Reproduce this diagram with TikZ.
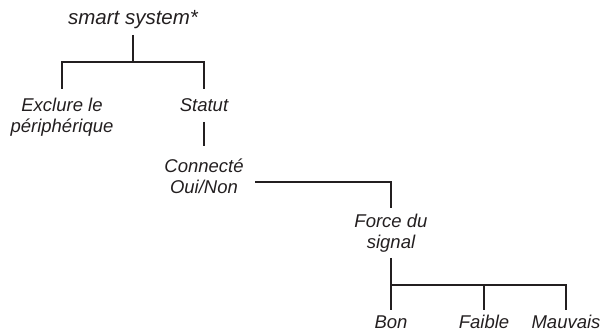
\documentclass[tikz,border=0pt]{standalone}
\usepackage{fontspec}
\setmainfont{Liberation Sans}
\definecolor{ink}{HTML}{231F20}
\newcommand{\twolines}[2]{\begin{tabular}[t]{@{}c@{}}#1\\#2\end{tabular}}
\begin{document}
\begin{tikzpicture}[x=1pt,y=1pt,
  lbl/.style={inner sep=0pt,outer sep=0pt,anchor=base,text=ink,
    font=\fontsize{18.5}{20.5}\selectfont\itshape},
  ttl/.style={lbl,font=\fontsize{20.5}{22}\selectfont\itshape},
  conn/.style={draw=ink,line width=1.8pt}]
\useasboundingbox (0,0) rectangle (603,335);
\node[ttl] (title) at (133,310) {smart system*};
\node[lbl] (exclure) at (62,223) {\twolines{Exclure le}{périphérique}};
\node[lbl] (statut) at (204,223) {Statut};
\node[lbl] (connecte) at (204,162) {\twolines{Connecté}{Oui/Non}};
\node[lbl] (force) at (391,107) {\twolines{Force du}{signal}};
\node[lbl] (bon) at (391,6) {Bon};
\node[lbl] (faible) at (484,6) {Faible};
\node[lbl] (mauvais) at (566,6) {Mauvais};
\coordinate (j1) at (133,273);
\coordinate (j2) at (391,153);
\coordinate (j3) at (391,50);
\draw[conn] ([yshift=-10pt]title.base) -- (j1);
\draw[conn] ([yshift=23pt]exclure.base) |- (j1) -| ([yshift=23pt]statut.base);
\draw[conn] ([yshift=-10pt]statut.base) -- ([yshift=27pt]connecte.base);
\draw[conn] ([shift={(51pt,-9pt)}]connecte.base) -- (j2) -- ([yshift=20pt]force.base);
\draw[conn] ([yshift=-30pt]force.base) -- (j3) -- ([yshift=19pt]bon.base);
\draw[conn] (j3) -| ([yshift=19pt]mauvais.base);
\draw[conn] (faible.base |- j3) -- ([yshift=19pt]faible.base);
\end{tikzpicture}
\end{document}
